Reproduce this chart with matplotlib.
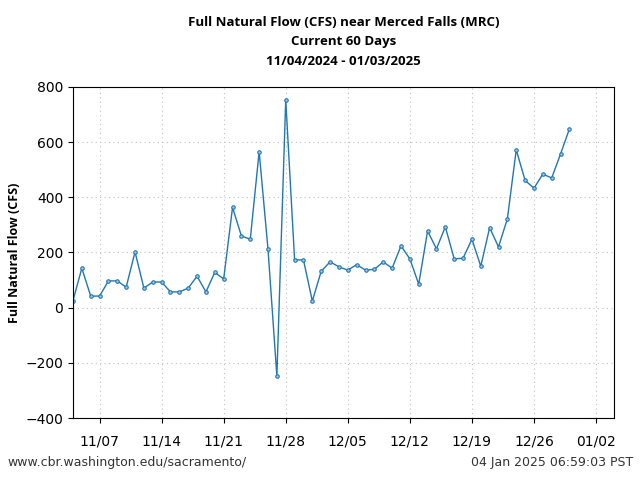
import matplotlib
matplotlib.use("Agg")
import matplotlib.pyplot as plt
import matplotlib.dates as mdates
import numpy as np
import datetime as dt

start_date = dt.date(2024, 11, 4)
flow = [25, 143, 42, 42, 97, 97, 74, 202, 71, 93, 93, 57, 57, 71, 114, 57, 128, 104,
        363, 260, 248, 565, 212, -248, 753, 173, 173, 24, 132, 166, 148, 136, 156, 136,
        139, 166, 143, 224, 177, 85, 278, 213, 293, 177, 179, 248, 150, 290, 220, 322,
        572, 461, 433, 484, 470, 557, 648]
dates = [start_date + dt.timedelta(days=i) for i in range(len(flow))]
tick_dates = [dt.date(2024, 11, 7) + dt.timedelta(days=7 * i) for i in range(9)]
y_ticks = [-400, -200, 0, 200, 400, 600, 800]

fig = plt.figure(figsize=(6.4, 4.8), dpi=100)
ax = fig.add_axes([0.114, 0.129, 0.845, 0.690])
ax.plot(dates, flow, color='#1f77b4', lw=1.0, marker='o', ms=2.5,
        mfc='#a6c8e6', mec='#1f77b4', mew=0.8)
ax.set_xlim(dt.date(2024, 11, 4), dt.date(2025, 1, 4))
ax.set_ylim(-400, 800)
ax.set_yticks(y_ticks)
ax.set_xticks(tick_dates)
ax.xaxis.set_major_formatter(mdates.DateFormatter('%m/%d'))
ax.grid(True, linestyle=(0, (1, 3)), color='#c0c0c0', lw=0.8)
ax.tick_params(axis='x', pad=8)
ax.set_ylabel('Full Natural Flow (CFS)', fontweight='bold', fontsize=9,
              family='Open Sans', labelpad=3)
fig.text(0.537, 1 - 16 / 480,
         'Full Natural Flow (CFS) near Merced Falls (MRC)\nCurrent 60 Days\n11/04/2024 - 01/03/2025',
         fontweight='bold', fontsize=9.5, family='Open Sans', ha='center', va='top',
         linespacing=1.63)
fig.text(0.011, 0.029, 'www.cbr.washington.edu/sacramento/', fontsize=9, color='#333333')
fig.text(0.989, 0.029, '04 Jan 2025 06:59:03 PST', fontsize=9, color='#333333', ha='right')
fig.savefig('out.png', dpi=100)
